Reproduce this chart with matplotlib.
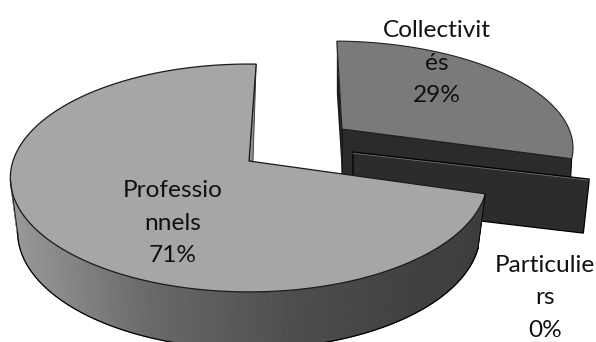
import numpy as np
import matplotlib
matplotlib.use("Agg")
import matplotlib.pyplot as plt
from matplotlib.collections import PolyCollection
from matplotlib.patches import Polygon

# Share of each customer group, clockwise from the top of the pie
groups = ["Collectivit\nés", "Particulie\nrs", "Professio\nnnels"]
shares = [29, 0, 71]
top_colors = ["#7a7a7a", "#2c2c2c", "#a6a6a6"]
cut_color = "#2b2b2b"

# Side wall shading, light on the left and dark on the right
shade_x = [10, 150, 300, 420, 490]
shade_grey = [0.60, 0.41, 0.30, 0.25, 0.24]

# Pie geometry in pixels
start_angle = 2.0
radius_x = 236
radius_y = 111.4
persp = 0.149
depth = 54
bottom_scale = 0.97

plt.rcParams["font.family"] = ["Lato", "DejaVu Sans"]


def project(theta, origin, rx=radius_x, ry=radius_y, shear=0.0, scale=1.0, drop=0.0):
    # Clockwise angle in degrees to screen position, nearer points look bigger
    t = np.radians(theta)
    u, v = np.sin(t) * scale, np.cos(t) * scale
    f = 1 / (1 + persp * v)
    return np.column_stack([origin[0] + rx * u * f + shear * v,
                            origin[1] - ry * v * f + drop])


def wedge_top(a0, a1, origin, **kw):
    arc = project(np.linspace(a0, a1, 200), origin, **kw)
    return np.vstack([[origin], arc])


angles = start_angle + np.cumsum([0] + shares) * 3.6

fig = plt.figure(figsize=(5.96, 3.42), dpi=100)
ax = fig.add_axes([0, 0, 1, 1])
ax.set_xlim(0, 596)
ax.set_ylim(342, 0)
ax.axis("off")

# Collectivites, pulled out towards the back right
o_coll = (342, 129)
coll_kw = dict(rx=227, ry=101, shear=-8.6)
a0, a1 = angles[0] - 1, angles[1]
rim_end = project(a1, o_coll, **coll_kw)[0]
rim_start = project(a0, o_coll, **coll_kw)[0]
ax.add_patch(Polygon([o_coll, rim_end, rim_end + (-3, depth), (o_coll[0], o_coll[1] + depth)],
                     fc=cut_color, ec="black", lw=0.7))
ax.add_patch(Polygon([rim_start, rim_start + (0, 53), (o_coll[0], o_coll[1] + 46), o_coll],
                     fc="#1e1e1e", ec="none"))
ax.add_patch(Polygon(wedge_top(a0, a1, o_coll, **coll_kw), fc=top_colors[0], ec="#222222", lw=0.8))

# Particuliers has no share, so only its cut plane shows
o_part = (353, 152)
rim = project(angles[2], o_part, rx=236, ry=92)[0]
ax.add_patch(Polygon([o_part, rim, rim + (-6, 54), (o_part[0], o_part[1] + 54)],
                     fc=top_colors[1], ec="black", lw=0.9))
ax.plot([o_part[0], rim[0]], [o_part[1] + 1.2, rim[1] + 1.2], color="#777777", lw=0.5)

# Professionnels side wall, only the part facing the viewer
o_prof = (249, 161)
a0, a1 = angles[2], angles[3]
th = np.linspace(a0, a1, 361)
upper = project(th, o_prof)
lower = project(th, o_prof, ry=radius_y * 1.06, scale=bottom_scale, drop=depth)
left = np.argmin(upper[:, 0])
quads = [[upper[i], upper[i + 1], lower[i + 1], lower[i]] for i in range(left)]
greys = np.interp(upper[:left, 0], shade_x, shade_grey)
side = PolyCollection(quads, facecolors=plt.cm.gray(greys), edgecolors=plt.cm.gray(greys), lw=0.6)
ax.add_collection(side)

# Outline of the wall: lower rim, left silhouette and right end
ax.plot(lower[:left + 1, 0], lower[:left + 1, 1], color="black", lw=0.9)
ax.plot([upper[left, 0], lower[left, 0]], [upper[left, 1], lower[left, 1]], color="#222222", lw=0.7)
ax.plot([upper[0, 0], lower[0, 0]], [upper[0, 1], lower[0, 1]], color="black", lw=0.7)

# Thin visible part of the cut face next to the gap
rim_back = project(a1, o_prof)[0]
ax.add_patch(Polygon([rim_back, o_prof, (o_prof[0] + 4, o_prof[1] + 0.6)],
                     fc="#8f8f8f", ec="#333333", lw=0.6))
ax.add_patch(Polygon(wedge_top(a0, a1, o_prof), fc=top_colors[2], ec="#1a1a1a", lw=0.9))

# Data labels
label_pos = [(437, 63), (545, 298), (173, 223)]
for name, share, (x, y) in zip(groups, shares, label_pos):
    ax.text(x, y, f"{name}\n{share}%", ha="center", va="center", fontsize=17.6,
            color="#111111", linespacing=1.66, clip_on=False)

fig.savefig("out.png", dpi=100)
